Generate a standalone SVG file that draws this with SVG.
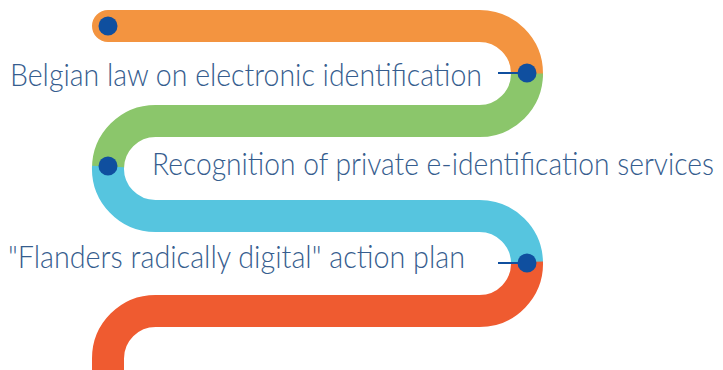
<svg xmlns="http://www.w3.org/2000/svg" width="723" height="370" viewBox="0 0 723 370">
<style>
.road{fill:none;stroke-width:32}
.dot{fill:#0F4F9F}
.tick{stroke:#0F4F9F;stroke-width:2}
.lbl{font-family:"Lato","Inter","Open Sans",sans-serif;font-weight:300;font-size:32px;fill:#365D8E}
</style>
<rect width="723" height="370" fill="#ffffff"/>
<g id="connectors">
<path class="road" style="stroke-linecap:round" stroke="#F39440" d="M108,26 H479.5 A47.5,47.5 0 0 1 527,73.5"/>
<path class="road" stroke="#8BC66B" d="M527,73.5 A47.5,47.5 0 0 1 479.5,121 H155.5 A47.5,47.5 0 0 0 108,168.5"/>
<path class="road" stroke="#56C5DF" d="M108,166.5 A47.5,47.5 0 0 0 155.5,216 H479.5 A47.5,47.5 0 0 1 527,263.5"/>
<path class="road" stroke="#EF5B30" d="M527,262 A47.5,47.5 0 0 1 479.5,311 H155.5 A47.5,47.5 0 0 0 108,358.5 V380"/>
<line class="tick" x1="498" y1="73" x2="522" y2="73"/>
<line class="tick" x1="498" y1="263" x2="522" y2="263"/>
</g>
<g id="start">
<circle class="dot" cx="108" cy="26" r="9.5"/>
</g>
<g id="node-belgian-law">
<circle class="dot" cx="527" cy="73" r="9.5"/>
<text class="lbl" x="10" y="86" textLength="472" lengthAdjust="spacingAndGlyphs">Belgian law on electronic identification</text>
</g>
<g id="node-recognition">
<circle class="dot" cx="108" cy="166" r="9.5"/>
<text class="lbl" x="152" y="175" textLength="562" lengthAdjust="spacingAndGlyphs">Recognition of private e-identification services</text>
</g>
<g id="node-flanders">
<circle class="dot" cx="527" cy="263" r="9.5"/>
<text class="lbl" x="8" y="268" textLength="457" lengthAdjust="spacingAndGlyphs">"Flanders radically digital" action plan</text>
</g>
</svg>
